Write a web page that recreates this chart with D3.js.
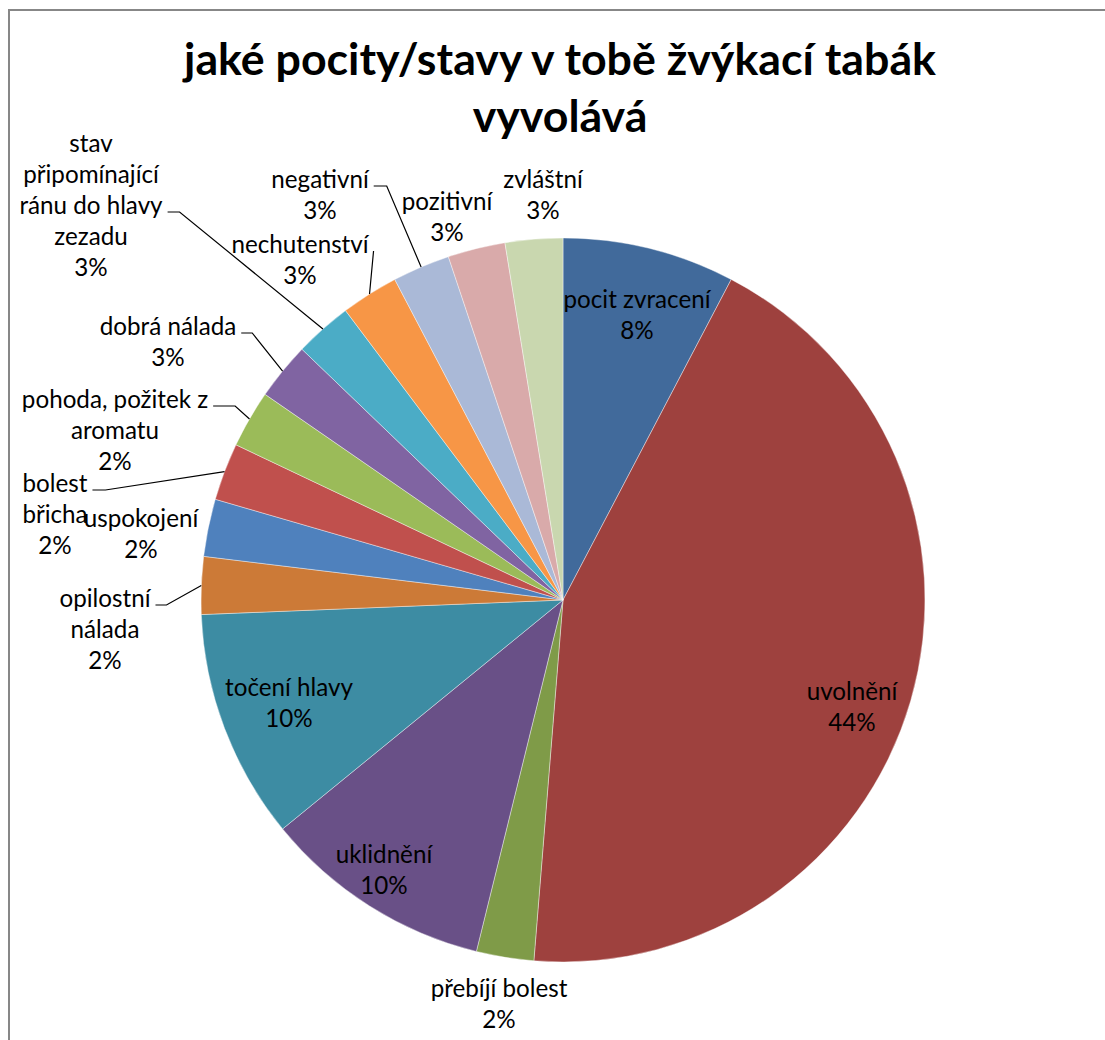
<!DOCTYPE html>
<html>
<head>
<meta charset="utf-8">
<script src="https://cdn.jsdelivr.net/npm/d3@7"></script>
<style>
body { margin: 0; background: #fff; }
svg { display: block; }
</style>
</head>
<body>
<svg id="chart" width="1105" height="1040"></svg>
<script>
// data (counts, 39 answers in total)
const categories = [
  "pocit zvracení", "uvolnění", "přebíjí bolest", "uklidnění", "točení hlavy",
  "opilostní nálada", "uspokojení", "bolest břicha", "pohoda, požitek z aromatu",
  "dobrá nálada", "stav připomínající ránu do hlavy zezadu", "nechutenství",
  "negativní", "pozitivní", "zvláštní"
];
const counts = [3, 17, 1, 4, 4, 1, 1, 1, 1, 1, 1, 1, 1, 1, 1];
// percentages as Excel printed them (rounded to sum 100)
const pctLabels = ["8%", "44%", "2%", "10%", "10%", "2%", "2%", "2%", "2%", "3%", "3%", "3%", "3%", "3%", "3%"];
const colors = [
  "#416a9b", "#9e413e", "#7f9b48", "#695087", "#3d8ca3", "#cc7a37",
  "#4f81bd", "#c0504d", "#9bbb59", "#8064a2", "#4bacc6", "#f79646",
  "#aab9d7", "#d9aaaa", "#c9d7af"
];
const title = ["jaké pocity/stavy v tobě žvýkací tabák", "vyvolává"];

// label layout: offset of block centre / first baseline from pie centre,
// wrapped lines, line that carries the leader (-1 none), hook length
const labelLayout = [
  { dx: 74, dy: -292, lines: ["pocit zvracení"], lead: -1 },
  { dx: 289, dy: 100, lines: ["uvolnění"], lead: -1 },
  { dx: -64, dy: 397, lines: ["přebíjí bolest"], lead: -1 },
  { dx: -179, dy: 263, lines: ["uklidnění"], lead: -1 },
  { dx: -274, dy: 96, lines: ["točení hlavy"], lead: -1 },
  { dx: -458, dy: 7, lines: ["opilostní", "nálada"], lead: 0, hook: 11 },
  { dx: -422, dy: -73, lines: ["uspokojení"], lead: -1 },
  { dx: -508, dy: -108, lines: ["bolest", "břicha"], lead: 0, hook: 13 },
  { dx: -448, dy: -192, lines: ["pohoda, požitek z", "aromatu"], lead: 0, hook: 22 },
  { dx: -395, dy: -265, lines: ["dobrá nálada"], lead: 0, hook: 11 },
  { dx: -472, dy: -448, lines: ["stav", "připomínající", "ránu do hlavy", "zezadu"], lead: 2, hook: 12 },
  { dx: -263, dy: -347, lines: ["nechutenství"], lead: 0, hook: 0 },
  { dx: -243, dy: -412, lines: ["negativní"], lead: 0, hook: 13 },
  { dx: -116, dy: -390, lines: ["pozitivní"], lead: -1 },
  { dx: -20, dy: -412, lines: ["zvláštní"], lead: -1 }
];

const svg = d3.select("#chart");
const fontFamily = "Lato, 'Open Sans', sans-serif";
const cx = 563, cy = 600, radius = 362;
const lineH = 31;

// chart area border
svg.append("rect")
  .attr("x", 9).attr("y", 10)
  .attr("width", 1105).attr("height", 1100)
  .attr("fill", "#fff")
  .attr("stroke", "#878787")
  .attr("stroke-width", 2);

// fit the font sizes to the widths measured on the reference
function fitSize(text, weight, target, start) {
  const t = svg.append("text")
    .attr("font-family", fontFamily)
    .attr("font-weight", weight)
    .attr("font-size", start)
    .text(text);
  const w = t.node().getComputedTextLength();
  t.remove();
  return start * target / w;
}
const titleSize = fitSize(title[0], "bold", 752, 44);
const labelSize = fitSize("pocit zvracení", "normal", 147, 20);

svg.append("g")
  .selectAll("text")
  .data(title)
  .join("text")
  .attr("x", 560)
  .attr("y", (d, i) => 75 + i * 57)
  .attr("text-anchor", "middle")
  .attr("font-family", fontFamily)
  .attr("font-weight", "bold")
  .attr("font-size", titleSize)
  .attr("fill", "#000")
  .text(d => d);

const rows = categories.map((c, i) => ({
  name: c,
  value: counts[i],
  pct: pctLabels[i],
  color: colors[i],
  layout: labelLayout[i]
}));

const pie = d3.pie().value(d => d.value).sort(null);
const arc = d3.arc().innerRadius(0).outerRadius(radius);
const arcs = pie(rows);

const g = svg.append("g").attr("transform", `translate(${cx},${cy})`);

g.selectAll("path.slice")
  .data(arcs)
  .join("path")
  .attr("class", "slice")
  .attr("d", arc)
  .attr("fill", d => d.data.color)
  .attr("stroke", "#ffffff")
  .attr("stroke-opacity", 0.5)
  .attr("stroke-width", 0.8);

// labels
const labels = g.selectAll("g.label")
  .data(arcs)
  .join("g")
  .attr("class", "label");

labels.each(function (d) {
  const lay = d.data.layout;
  const sel = d3.select(this);
  const lines = lay.lines.concat([d.data.pct]);
  const texts = sel.selectAll("text")
    .data(lines)
    .join("text")
    .attr("x", lay.dx)
    .attr("y", (s, i) => lay.dy + i * lineH)
    .attr("text-anchor", "middle")
    .attr("font-family", fontFamily)
    .attr("font-size", labelSize)
    .attr("fill", "#000")
    .text(s => s);

  if (lay.lead < 0) return;
  const node = texts.nodes()[lay.lead];
  const w = node.getComputedTextLength();
  const x0 = lay.dx + w / 2 + 5;
  const y0 = lay.dy + lay.lead * lineH - 2;
  const mid = (d.startAngle + d.endAngle) / 2;
  const x2 = radius * Math.sin(mid);
  const y2 = -radius * Math.cos(mid);
  const pts = [[x0, y0], [x0 + lay.hook, y0], [x2, y2]];
  sel.append("path")
    .attr("d", d3.line()(pts))
    .attr("fill", "none")
    .attr("stroke", "#000")
    .attr("stroke-width", 1.2);
});
</script>
</body>
</html>
